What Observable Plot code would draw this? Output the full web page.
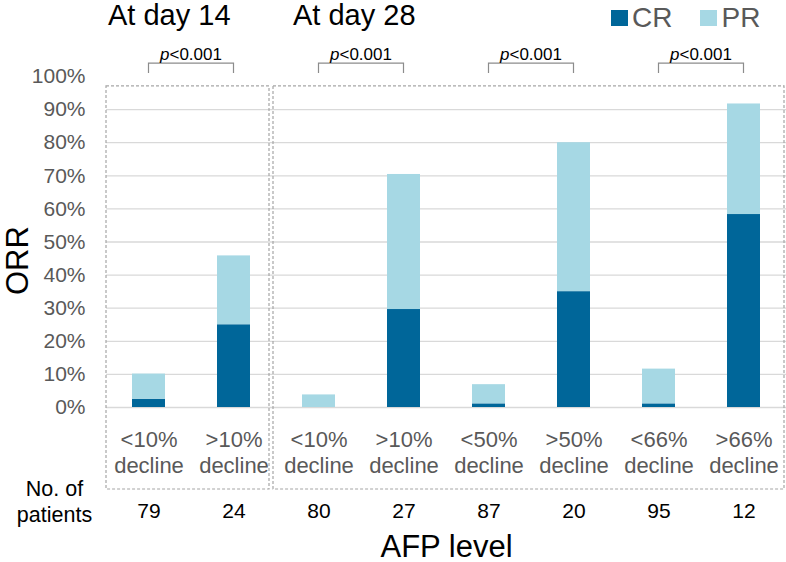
<!DOCTYPE html>
<html><head><meta charset="utf-8">
<script src="https://cdn.jsdelivr.net/npm/d3@7"></script>
<script src="https://cdn.jsdelivr.net/npm/@observablehq/plot@0.6"></script>
<style>
body{margin:0;background:#fff;font-family:"Liberation Sans",Arial,sans-serif;}
#wrap{position:relative;width:786px;height:562px;}
.legend{position:absolute;left:611px;top:1px;display:flex;align-items:center;font-size:28px;color:#595959;line-height:34px;}
.legend span.sw{display:inline-block;width:17px;height:16px;margin-right:4px;}
.legend span.lab{margin-right:28px;}
</style></head><body><div id="wrap"></div>
<script>
// ---- data ----
const categories = ["<10%\ndecline", ">10%\ndecline", "<10%\ndecline", ">10%\ndecline",
                    "<50%\ndecline", ">50%\ndecline", "<66%\ndecline", ">66%\ndecline"];
const patients = [79, 24, 80, 27, 87, 20, 95, 12];
const crValues = [0.025, 0.25, 0.0, 0.296, 0.011, 0.35, 0.011, 0.583];
const prValues = [0.076, 0.208, 0.038, 0.408, 0.058, 0.45, 0.105, 0.334];
const series = ["CR", "PR"];
const groupTitles = ["At day 14", "At day 28"];
const groupSpans = [[0, 1], [2, 7]];
const pLabels = ["p<0.001", "p<0.001", "p<0.001", "p<0.001"];
const pPairs = [[0, 1], [2, 3], [4, 5], [6, 7]];
const yTicks = [0, 0.1, 0.2, 0.3, 0.4, 0.5, 0.6, 0.7, 0.8, 0.9, 1.0];
const gridTicks = [0, 0.1, 0.2, 0.3, 0.4, 0.5, 0.6, 0.7, 0.8, 0.9];
const yLabel = "ORR";
const xLabel = "AFP level";
const rowLabel = "No. of\npatients";

// ---- styles ----
const colors = ["#006699", "#a6d8e4"];
const gray = "#595959";
const boxInsets = [[0, 7], [-3, 2]];
const titleDx = [2, 20];

const idx = categories.map((_, i) => i);
const rows = idx.map(i => ({i, label: categories[i], n: patients[i]}));
const stacked = [];
series.forEach((s, k) => idx.forEach(i => stacked.push({i, type: s, value: (k === 0 ? crValues : prValues)[i]})));

function annotate(index, scales, values, dims) {
  const x = scales.x, y = scales.y;
  const bw = typeof x.bandwidth === "function" ? x.bandwidth() : x.bandwidth;
  const step = typeof x.step === "function" ? x.step() : (x.step ?? bw / (1 - 0.608));
  const cx = i => x(i) + bw / 2;
  const g = d3.create("svg:g").attr("font-family", "Liberation Sans, Arial, sans-serif");
  groupSpans.forEach(([a, b], k) => {
    const left = cx(a) - step / 2 + boxInsets[k][0];
    const right = cx(b) + step / 2 - boxInsets[k][1];
    const top = y(0.97);
    const bottom = dims.height - dims.marginBottom + 82;
    g.append("rect").attr("x", left).attr("y", top).attr("width", right - left).attr("height", bottom - top)
      .attr("fill", "none").attr("stroke", "#a6a6a6").attr("stroke-width", 1.2).attr("stroke-dasharray", "3,2");
    g.append("text").attr("x", left + titleDx[k]).attr("y", y(1.155)).attr("font-size", 29).attr("fill", "#000")
      .attr("text-anchor", "start").text(groupTitles[k]);
  });
  pPairs.forEach(([a, b], k) => {
    const y1 = y(1.009), y2 = y(1.039);
    g.append("path").attr("d", `M${cx(a)},${y1}V${y2}H${cx(b)}V${y1}`)
      .attr("fill", "none").attr("stroke", "#8c8c8c").attr("stroke-width", 1.2);
    const t = g.append("text").attr("x", (cx(a) + cx(b)) / 2).attr("y", y2 - 3.5)
      .attr("text-anchor", "middle").attr("font-size", 17).attr("fill", "#000");
    t.append("tspan").attr("font-style", "italic").text(pLabels[k].slice(0, 1));
    t.append("tspan").text(pLabels[k].slice(1));
  });
  return g.node();
}

const chart = Plot.plot({
  width: 786,
  height: 562,
  marginTop: 76,
  marginBottom: 155,
  marginLeft: 106,
  marginRight: 0,
  style: {fontFamily: "Liberation Sans, Arial, sans-serif", overflow: "visible", background: "white"},
  x: {type: "band", domain: idx, paddingInner: 0.608, paddingOuter: 0.304, axis: null},
  y: {domain: [0, 1], axis: null},
  color: {domain: series, range: colors},
  marks: [
    Plot.gridY(gridTicks, {stroke: "#d9d9d9", strokeOpacity: 1, strokeWidth: 1.3}),
    Plot.barY(stacked, {x: "i", y: "value", fill: "type", order: series}),
    Plot.axisY(yTicks, {tickFormat: d3.format(".0%"), tickSize: 0, tickPadding: 21, fontSize: 21, color: gray, label: null}),
    Plot.text([yLabel], {frameAnchor: "left", rotate: -90, dx: -88, dy: 53, fontSize: 31, fill: "#000"}),
    Plot.text(rows, {x: "i", text: "label", frameAnchor: "bottom", lineAnchor: "top", dy: 21, fontSize: 22, lineHeight: 1.18, fill: gray}),
    Plot.text(rows, {x: "i", text: d => String(d.n), frameAnchor: "bottom", lineAnchor: "top", dy: 96, fontSize: 21, fill: "#000"}),
    Plot.text([rowLabel], {frameAnchor: "bottom-left", lineAnchor: "top", textAnchor: "middle", dx: -52, dy: 69, fontSize: 21.5, lineHeight: 1.25, fill: "#000"}),
    Plot.text([xLabel], {frameAnchor: "bottom", lineAnchor: "top", dy: 127, fontSize: 31, fill: "#000"}),
    annotate
  ]
});

const wrap = document.getElementById("wrap");
wrap.appendChild(chart);
const legend = document.createElement("div");
legend.className = "legend";
series.forEach((s, k) => {
  const sw = document.createElement("span"); sw.className = "sw"; sw.style.background = colors[k];
  const lab = document.createElement("span"); lab.className = "lab"; lab.textContent = s;
  legend.appendChild(sw); legend.appendChild(lab);
});
wrap.appendChild(legend);
</script>
</body></html>
